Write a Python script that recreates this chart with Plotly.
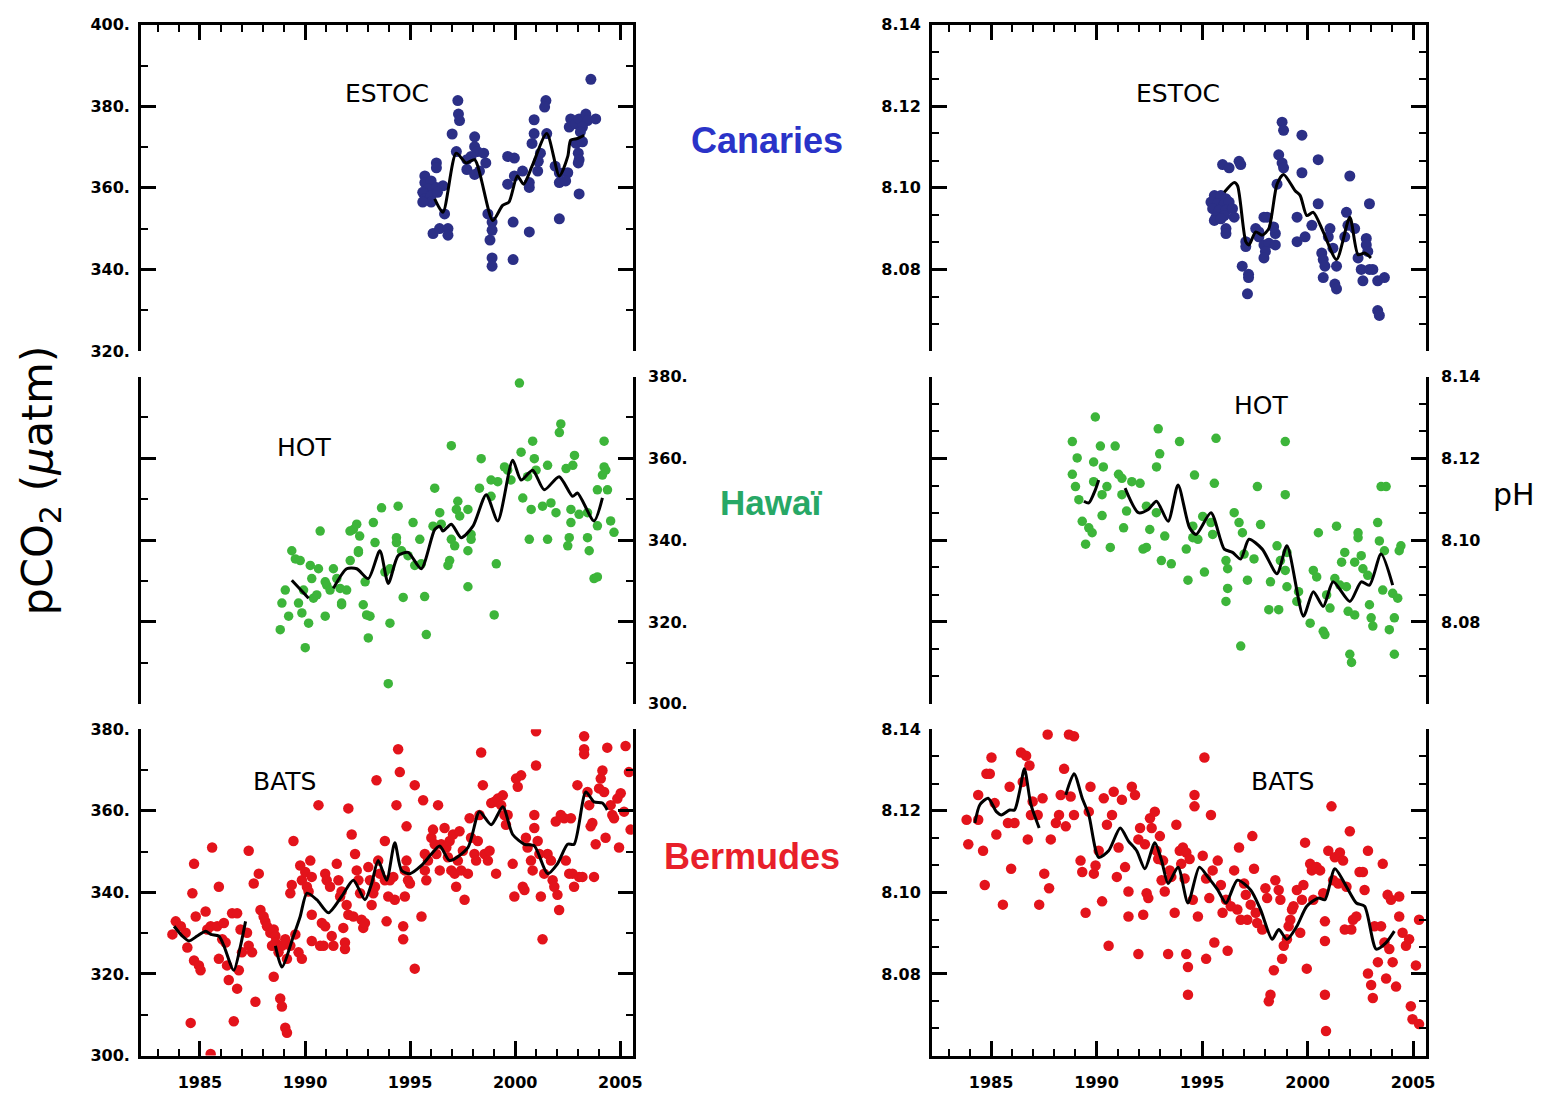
import plotly.graph_objects as go

# ---------------- DATA ----------------
# ESTOC (Canaries) pCO2
estoc_pco2_year = [2003.6, 1997.27, 1997.3, 1997.35, 1997.0, 2001.46, 2001.4, 2000.9, 2000.9, 2000.8,
                   2001.5, 1998.07, 1998.07, 1998.2, 1998.5, 1997.9, 1997.7, 1997.2, 1998.6, 1997.7,
                   1998.07, 1998.3, 1996.25, 1996.25, 1995.7, 1995.7, 1996.0, 1995.85, 1996.25, 1996.56,
                   1995.6, 1995.7, 1996.0, 1996.3, 1996.0, 1995.6, 1996.64, 1996.09, 1996.4, 1996.8,
                   1996.8, 1999.64, 1999.96, 1999.64, 1999.96, 2000.35, 2000.67, 2000.67, 1998.7, 1998.9,
                   1998.9, 1998.8, 1998.9, 1998.9, 1999.9, 1999.9, 2000.67, 2002.1, 2001.2, 2001.1,
                   2001.07, 2001.9, 2002.1, 2002.1, 2002.5, 2002.4, 2002.64, 2002.57, 2002.88, 2003.04,
                   2003.36, 2003.44, 2003.83, 2003.2, 2003.1, 2002.9, 2003.2, 2003.0, 2003.04, 2003.0,
                   2003.04]
estoc_pco2_val = [386.6, 381.4, 378.1, 376.5, 373.2, 381.4, 379.8, 376.7, 373.3, 370.9,
                  373.3, 372.5, 370.1, 368.9, 368.5, 367.7, 366.9, 368.9, 366.1, 364.5,
                  363.3, 364.1, 366.1, 364.9, 362.9, 361.3, 361.7, 359.7, 360.1, 360.5,
                  358.9, 357.3, 358.1, 358.9, 356.5, 356.5, 353.6, 348.8, 350.0, 350.0,
                  348.4, 367.7, 367.3, 360.9, 362.9, 364.1, 360.1, 361.3, 353.6, 351.6,
                  349.6, 347.2, 342.8, 340.8, 342.4, 351.6, 349.2, 352.4, 368.5, 366.5,
                  364.1, 365.3, 363.7, 361.3, 363.7, 361.7, 376.9, 374.9, 375.7, 376.9,
                  378.1, 376.5, 376.9, 374.9, 373.7, 370.9, 371.3, 368.5, 366.9, 366.1,
                  358.5]
estoc_pco2_fit_year = [1996.17, 1996.56, 1997.19, 1997.67, 1998.07, 1998.93, 1999.4, 1999.7, 2000.1,
                       2000.4, 2000.8, 2001.5, 2002.1, 2002.5, 2002.64, 2002.96, 2003.28]
estoc_pco2_fit_val = [357.3, 354.0, 368.5, 366.1, 366.9, 352.0, 355.7, 356.5, 362.9,
                      360.9, 365.3, 373.3, 362.9, 367.7, 371.7, 372.1, 372.9]

# ESTOC pH
estoc_ph_year = [1998.79, 1998.86, 1999.73, 1998.63, 1998.79, 1998.86, 1998.55, 2000.5, 1999.73, 2002.0,
                 1995.97, 1996.28, 1996.75, 1996.83, 1995.58, 1995.89, 1996.13, 1995.42, 1995.73, 1996.05,
                 1996.28, 1995.5, 1995.81, 1996.13, 1996.44, 1995.66, 1996.05, 1995.58, 1995.89, 1996.52,
                 1996.13, 1996.13, 1997.07, 1997.07, 1996.9, 1997.2, 1997.2, 1997.15, 1997.54, 1997.69,
                 1997.93, 1998.08, 1997.93, 1998.16, 1998.0, 1997.93, 1998.47, 1998.47, 1998.39, 1997.69,
                 1999.5, 1999.5, 1999.88, 2000.2, 2000.5, 2000.67, 2000.74, 2000.82, 2000.74, 2001.29,
                 2001.37, 2001.37, 2001.06, 2000.98, 2001.2, 2001.84, 2001.91, 2001.76, 2002.23, 2002.39,
                 2002.54, 2002.78, 2002.78, 2002.85, 2002.93, 2003.09, 2002.62, 2002.93, 2003.32, 2003.64,
                 2003.32, 2003.4]
estoc_ph_val = [8.1161, 8.1141, 8.1129, 8.1081, 8.1061, 8.1049, 8.1009, 8.1069, 8.1037, 8.1029,
                8.1057, 8.1049, 8.1065, 8.1057, 8.0981, 8.0981, 8.0973, 8.0965, 8.0961, 8.0961,
                8.0965, 8.0949, 8.0945, 8.0945, 8.0949, 8.0928, 8.0932, 8.0920, 8.0924, 8.0928,
                8.0900, 8.0888, 8.0868, 8.0856, 8.0808, 8.0788, 8.0780, 8.0740, 8.0900, 8.0880,
                8.0928, 8.0928, 8.0860, 8.0864, 8.0844, 8.0828, 8.0860, 8.0888, 8.0904, 8.0892,
                8.0928, 8.0868, 8.0880, 8.0908, 8.0961, 8.0840, 8.0824, 8.0808, 8.0780, 8.0764,
                8.0752, 8.0808, 8.0900, 8.0880, 8.0852, 8.0940, 8.0908, 8.0880, 8.0900, 8.0828,
                8.0800, 8.0876, 8.0860, 8.0844, 8.0800, 8.0800, 8.0772, 8.0961, 8.0772, 8.0780,
                8.0699, 8.0687]
estoc_ph_fit_year = [1996.05, 1996.52, 1996.68, 1997.07, 1997.22, 1997.54, 1997.85, 1998.16, 1998.55, 1998.86,
                     1999.41, 1999.65, 1999.96, 2000.27, 2000.74, 2001.37, 2002.0, 2002.39, 2002.7, 2003.0]
estoc_ph_fit_val = [8.0989, 8.1013, 8.1005, 8.0868, 8.0860, 8.0892, 8.0884, 8.0900, 8.1009, 8.1033,
                    8.0993, 8.0981, 8.0932, 8.0940, 8.0892, 8.0824, 8.0928, 8.0836, 8.0840, 8.0828]

# HOT (Hawaii) pCO2
hot_pco2_year = [2000.2, 2002.17, 2002.1, 1996.96, 2000.83, 2004.23, 1998.38, 1999.49, 2000.28, 2000.91,
                 2001.54, 2000.99, 2000.59, 2002.74, 2002.82, 2004.23, 2004.31, 2004.15, 2004.39, 2003.91,
                 2002.42, 1997.27, 1997.75, 1998.3, 1998.85, 1999.17, 1999.8, 1999.64, 1998.85, 2000.36,
                 2000.76, 2001.3, 2001.7, 2001.94, 2002.65, 2003.04, 2002.65, 2003.44, 2000.67, 2001.54,
                 2002.57, 2002.5, 2003.44, 2003.52, 2003.91, 2004.54, 2004.7, 2003.75, 2003.91, 1996.17,
                 1996.41, 1996.09, 1996.48, 1997.2, 1997.36, 1996.96, 1997.12, 1996.88, 1996.8, 1997.9,
                 1997.75, 1997.9, 1995.46, 1995.14, 1994.9, 1995.22, 1994.59, 1994.35, 1994.35, 1995.53,
                 1995.69, 1995.77, 1994.67, 1997.75, 1999.1, 1999.0, 1993.64, 1994.43, 1993.25, 1993.33,
                 1992.54, 1992.3, 1992.46, 1992.15, 1992.86, 1994.04, 1993.8, 1994.04, 1992.77, 1992.93,
                 1993.09, 1993.01, 1993.96, 1991.74, 1990.72, 1992.14, 1992.6, 1992.54, 1991.35, 1991.51,
                 1991.03, 1991.19, 1991.67, 1991.98, 1991.74, 1990.64, 1990.96, 1989.37, 1989.54, 1989.77,
                 1989.06, 1988.9, 1989.22, 1988.82, 1989.93, 1990.25, 1990.32, 1990.4, 1989.85, 1990.17,
                 1990.96, 1989.69, 1990.01, 1990.56]
hot_pco2_val = [378.4, 368.4, 366.3, 363.1, 364.2, 364.2, 359.9, 357.9, 361.5, 359.9,
                358.3, 357.1, 355.5, 358.3, 360.7, 357.9, 357.1, 355.9, 352.3, 352.3,
                357.5, 349.5, 347.5, 352.7, 350.7, 354.3, 354.7, 357.1, 354.7, 350.3,
                347.5, 348.3, 349.1, 346.7, 347.5, 346.3, 344.3, 346.7, 340.2, 340.2,
                340.6, 338.6, 340.6, 337.4, 343.5, 344.7, 341.9, 330.6, 331.0, 352.7,
                346.7, 343.4, 343.9, 347.5, 345.9, 340.2, 338.6, 335.0, 333.8, 340.2,
                337.4, 341.4, 340.2, 344.3, 336.2, 333.8, 337.4, 340.6, 339.4, 334.2,
                326.2, 316.9, 326.0, 328.6, 334.2, 321.7, 347.9, 348.3, 344.3, 339.4,
                337.0, 342.6, 343.9, 335.0, 329.8, 333.0, 332.2, 319.7, 324.2, 321.7,
                321.4, 316.1, 304.9, 324.2, 342.2, 342.2, 341.0, 337.4, 333.0, 330.6,
                329.0, 327.8, 328.2, 327.8, 324.6, 333.0, 329.8, 337.4, 335.4, 335.0,
                327.8, 324.6, 321.4, 318.1, 327.8, 333.8, 330.6, 325.8, 322.2, 319.7,
                321.4, 324.6, 313.7, 326.6]
hot_pco2_fit_year = [1989.37, 1990.17, None, 1991.35, 1991.98, 1992.46, 1993.01, 1993.56, 1993.96, 1994.43,
                     1994.9, 1995.53, 1996.17, 1996.41, 1996.56, 1996.96, 1997.43, 1997.99, 1998.62, 1999.17,
                     1999.88, 2000.28, 2000.83, 2001.38, 2002.09, 2002.73, 2002.96, 2003.75, 2004.15]
hot_pco2_fit_val = [330.2, 325.8, None, 328.2, 333.0, 333.0, 330.6, 337.4, 329.4, 336.2,
                    337.0, 333.0, 342.6, 343.4, 342.2, 343.9, 340.6, 343.4, 351.1, 344.7,
                    359.5, 354.7, 357.1, 352.3, 355.5, 350.7, 351.5, 344.7, 350.3]

# HOT pH
hot_ph_year = [1989.94, 1988.85, 1990.18, 1990.88, 1989.08, 1989.86, 1990.32, 1988.85, 1991.04, 1989.0,
               1990.49, 1991.2, 1989.86, 1990.26, 1989.16, 1991.2, 1989.32, 1989.63, 1989.79, 1989.48,
               1990.26, 1990.65, 1991.28, 1992.92, 1992.99, 1992.84, 1993.93, 1995.66, 1994.64, 1995.58,
               1997.62, 1998.94, 1998.94, 1991.67, 1992.06, 1991.42, 1992.36, 1992.83, 1992.36, 1992.2,
               1993.23, 1992.52, 1993.07, 1993.54, 1994.33, 1995.11, 1994.25, 1994.8, 1995.03, 1995.42,
               1994.56, 1994.56, 1995.5, 1996.13, 1996.21, 1996.52, 1996.75, 1996.91, 1996.99, 1996.21,
               1996.13, 1997.15, 1997.46, 1997.77, 1996.83, 1998.16, 1998.63, 1998.24, 1998.55, 1998.71,
               1999.02, 1998.94, 1999.02, 1999.49, 1999.57, 2000.12, 2000.51, 2000.27, 2000.43, 2000.74,
               2000.82, 2000.9, 2001.06, 2001.37, 2001.29, 2001.61, 2001.76, 2001.53, 2001.84, 2001.92,
               2002.23, 2002.39, 2002.39, 2002.54, 2002.62, 2002.85, 2002.93, 2003.01, 2003.09, 2003.32,
               2003.4, 2003.64, 2003.48, 2003.72, 2003.56, 2004.03, 2004.27, 2004.11, 2003.87, 2004.11,
               2002.0, 2002.08, 2002.23, 2004.42, 2004.34]
hot_ph_val = [8.1301, 8.1241, 8.1230, 8.1230, 8.1201, 8.1191, 8.1179, 8.1161, 8.1161, 8.1131,
              8.1131, 8.1151, 8.1143, 8.1111, 8.1099, 8.1111, 8.1046, 8.1030, 8.1018, 8.0990,
              8.1060, 8.0982, 8.1030, 8.1272, 8.1211, 8.1179, 8.1241, 8.1249, 8.1159, 8.1139,
              8.1131, 8.1241, 8.1111, 8.1143, 8.1139, 8.1071, 8.1083, 8.1067, 8.0982, 8.0978,
              8.1010, 8.1026, 8.0950, 8.0942, 8.0902, 8.0922, 8.0978, 8.1002, 8.1058, 8.1043,
              8.1034, 8.1006, 8.1014, 8.0950, 8.0930, 8.1067, 8.1043, 8.1018, 8.0966, 8.0882,
              8.0850, 8.0902, 8.0954, 8.1038, 8.0741, 8.0830, 8.0830, 8.0898, 8.0986, 8.0950,
              8.0970, 8.0926, 8.0886, 8.0850, 8.0874, 8.0797, 8.1018, 8.0926, 8.0910, 8.0777,
              8.0769, 8.0866, 8.0834, 8.1034, 8.0906, 8.0946, 8.0970, 8.0890, 8.0886, 8.0826,
              8.0817, 8.1018, 8.1006, 8.0962, 8.0930, 8.0914, 8.0842, 8.0810, 8.0790, 8.1043,
              8.0998, 8.0974, 8.1131, 8.1131, 8.0878, 8.0870, 8.0858, 8.0810, 8.0781, 8.0721,
              8.0721, 8.0701, 8.0946, 8.0986, 8.0974]
hot_ph_fit_year = [1989.4, 1989.63, 1989.94, 1990.1, None, 1991.35, 1991.98, 1992.45, 1992.84, 1993.39,
                   1993.86, 1994.4, 1994.72, 1995.42, 1996.05, 1996.44, 1996.83, 1997.22, 1997.85, 1998.55,
                   1999.02, 1999.8, 2000.27, 2000.74, 2001.21, 2002.0, 2002.54, 2002.93, 2003.48, 2004.03]
hot_ph_fit_val = [8.1095, 8.1091, 8.1123, 8.1147, None, 8.1127, 8.1067, 8.1075, 8.1095, 8.1046,
                  8.1135, 8.1031, 8.1014, 8.1067, 8.0978, 8.0970, 8.0954, 8.1002, 8.0978, 8.0918,
                  8.0986, 8.0814, 8.0874, 8.0838, 8.0898, 8.0850, 8.0898, 8.0890, 8.0966, 8.0890]

# BATS (Bermuda) pCO2
bats_pco2_year = [
    1983.85, 1983.69, 1984.09, 1984.32, 1984.40, 1984.80, 1984.72, 1984.95, 1985.03, 1984.64,
    1984.72, 1985.27, 1985.35, 1985.51, 1985.58, 1985.90, 1985.82, 1985.90, 1986.14, 1986.06,
    1986.22, 1986.29, 1986.37, 1986.53, 1986.61, 1986.77, 1986.85, 1986.77, 1986.93, 1987.00,
    1987.24, 1987.32, 1987.32, 1987.48, 1987.56, 1987.64, 1987.80, 1984.56, 1985.51,
    1987.88, 1988.03, 1988.11, 1988.19, 1988.35, 1988.51, 1988.59, 1988.43, 1988.59, 1988.74,
    1988.90, 1989.06, 1989.14, 1989.30, 1989.54, 1989.69, 1989.85, 1988.51, 1988.82, 1988.90,
    1989.06, 1989.14, 1989.30, 1989.37, 1989.45, 1989.77, 1989.85, 1990.01, 1990.09, 1990.25,
    1990.32, 1990.17, 1990.32,
    1990.64, 1990.80, 1990.96, 1990.32, 1990.72, 1990.88, 1990.96, 1991.03, 1991.19, 1991.27,
    1991.35, 1991.51, 1991.59, 1991.67, 1991.74, 1991.82, 1991.90, 1991.90, 1992.06, 1991.98,
    1992.06, 1992.22, 1992.30, 1992.38, 1992.46, 1992.54, 1992.62, 1992.69, 1992.77, 1992.85,
    1993.01, 1993.09, 1993.17, 1993.25, 1993.33, 1993.40, 1993.48, 1993.56, 1993.80, 1993.80,
    1993.88, 1993.96, 1994.04, 1994.20, 1994.27, 1994.35, 1994.43, 1994.51, 1994.67, 1994.75,
    1994.67, 1994.83, 1994.75, 1994.83, 1994.90, 1994.99, 1995.22, 1995.22, 1995.54, 1995.62,
    1995.70, 1995.85, 1995.70, 1995.77,
    1996.01, 1996.09, 1996.17, 1996.25, 1996.33, 1996.41, 1996.48, 1996.64, 1996.72, 1996.80,
    1996.88, 1996.96, 1997.04, 1997.12, 1997.19, 1997.27, 1997.35, 1997.43, 1997.51, 1997.59,
    1997.75, 1997.83, 1997.90, 1998.06, 1998.14, 1998.22, 1998.30, 1998.38, 1998.46, 1998.54,
    1998.70, 1998.78, 1998.86, 1999.01, 1999.09, 1999.17, 1999.33, 1999.41, 1999.49, 1999.56,
    1999.64, 1999.88, 1999.96, 2000.12, 2000.04, 2000.28, 2000.36, 2000.44,
    2000.51, 2000.59, 2000.75, 2000.83, 2000.91, 2000.91, 2000.99, 2000.99, 2001.07, 2001.15,
    2001.22, 2001.30, 2001.38, 2001.54, 2001.70, 2001.78, 2001.86, 2001.93, 2002.01, 2002.09,
    2002.17, 2002.33, 2002.41, 2002.57, 2002.65, 2002.73, 2002.80, 2002.96, 2003.04, 2003.20,
    2003.28, 2003.28, 2003.28, 2003.44, 2003.52, 2003.59, 2003.67, 2003.75, 2003.83, 2003.99,
    2004.07, 2004.15, 2004.23, 2004.30, 2004.38, 2004.54, 2004.62, 2004.70, 2004.86, 2004.94,
    2005.02, 2005.18, 2005.25, 2005.41, 2005.49]
bats_pco2_val = [
    332.9, 329.7, 331.7, 330.1, 326.5, 334.1, 323.3, 322.1, 320.9, 339.8,
    347.0, 335.3, 330.9, 331.7, 351.0, 341.4, 331.7, 323.7, 332.5, 328.5,
    327.7, 322.1, 318.5, 334.9, 308.4, 316.4, 320.9, 334.9, 330.9, 325.3,
    330.1, 326.9, 350.2, 325.3, 342.2, 313.2, 344.6, 308.0, 300.4,
    335.7, 334.1, 332.9, 331.7, 330.1, 330.9, 329.3, 326.9, 327.7, 325.3,
    326.9, 328.5, 323.7, 326.9, 329.7, 325.3, 323.7, 319.3, 314.0, 312.0,
    306.8, 305.6, 339.8, 341.8, 352.6, 346.6, 343.0, 345.0, 341.4, 347.8,
    343.8, 340.2, 328.1,
    361.4, 332.5, 331.7, 334.5, 326.9, 326.9, 344.6, 343.0, 341.4, 329.3,
    326.9, 347.0, 343.0, 339.0, 340.2, 331.3, 327.7, 326.1, 360.6, 336.9,
    334.5, 354.2, 334.1, 349.4, 345.4, 343.0, 339.8, 333.3, 331.3, 332.5,
    346.2, 343.0, 336.9, 339.8, 341.4, 367.5, 347.8, 344.6, 352.6, 343.0,
    332.9, 339.0, 343.0, 343.8, 338.2, 361.4, 375.1, 369.5, 331.7, 345.4,
    328.5, 347.8, 339.0, 356.2, 343.0, 342.2, 366.3, 321.3, 334.1, 362.6,
    349.4, 347.8, 345.4, 343.0,
    353.4, 355.4, 351.8, 349.4, 361.4, 345.4, 351.8, 355.8, 351.0, 348.6,
    352.6, 345.4, 354.2, 344.6, 341.4, 347.8, 355.0, 345.4, 350.2, 338.2,
    344.6, 358.2, 353.4, 349.4, 347.8, 352.6, 359.0, 374.3, 366.3, 349.4,
    347.8, 350.2, 361.9, 362.2, 344.6, 363.0, 361.4, 363.8, 359.0, 356.6,
    359.0, 347.0, 339.0, 365.9, 367.9, 368.7, 341.4, 340.6,
    353.4, 351.0, 347.8, 345.4, 359.0, 355.8, 379.5, 371.1, 352.6, 349.4,
    339.0, 328.5, 344.6, 349.4, 347.8, 343.0, 341.4, 357.4, 339.4, 335.7,
    359.0, 358.2, 347.8, 344.6, 358.2, 344.6, 341.4, 366.3, 343.8, 343.8,
    378.3, 375.1, 373.9, 364.6, 361.4, 356.2, 357.0, 343.8, 351.8, 365.5,
    367.9, 369.9, 364.6, 353.4, 375.5, 361.4, 359.0, 358.2, 363.0, 351.0,
    364.3, 359.8, 375.9, 369.5, 355.4]
bats_pco2_fit_year = [1983.77, 1984.16, 1984.48, 1984.87, 1985.27, 1985.51, 1985.9, 1986.14, 1986.61, 1986.93,
                      1987.17, None, 1988.59, 1988.9, 1989.45, 1989.77, 1990.09, 1990.56, 1991.11, 1991.74,
                      1992.3, 1992.85, 1993.17, 1993.48, 1993.88, 1994.27, 1994.59, 1994.99, 1995.54, 1996.01,
                      1996.41, 1996.88, 1997.75, 1998.3, 1998.86, 1999.41, 1999.88, 2000.44, 2000.91, 2001.54,
                      2002.01, 2002.49, 2002.8, 2003.36, 2003.75, 2004.15, 2004.38]
bats_pco2_fit_val = [331.7, 329.3, 328.1, 329.3, 330.5, 329.7, 329.3, 326.9, 320.9, 326.9,
                     332.9, None, 326.9, 321.7, 329.3, 334.1, 339.8, 338.2, 335.0, 339.0,
                     343.0, 338.2, 342.2, 347.8, 343.0, 352.2, 345.4, 344.6, 346.6, 349.4,
                     351.4, 347.8, 351.0, 359.8, 356.6, 361.0, 354.2, 351.8, 351.4, 344.6,
                     347.0, 351.8, 351.8, 364.6, 362.2, 361.9, 360.2]

# BATS pH
bats_ph_year = [
    1983.84, 1983.92, 1984.39, 1984.39, 1984.62, 1984.78, 1984.94, 1985.02, 1984.70, 1985.17,
    1985.25, 1985.56, 1985.80, 1985.88, 1985.95, 1986.11, 1986.42, 1986.50, 1986.66, 1986.74,
    1986.82, 1986.89, 1986.97, 1987.21, 1987.28, 1987.44, 1987.52, 1987.75, 1987.68, 1987.83,
    1988.07, 1988.22, 1988.30, 1988.46, 1988.54, 1988.69, 1988.93, 1988.77, 1988.93, 1989.24,
    1989.32, 1989.48, 1989.63, 1989.71, 1989.87, 1989.95, 1990.10, 1990.26, 1990.34, 1990.49,
    1990.57, 1990.73, 1990.81, 1990.96, 1991.04, 1991.20, 1991.35, 1991.51, 1991.51, 1991.67,
    1991.82, 1991.98, 1992.06, 1991.98, 1992.21, 1992.29, 1992.37, 1992.45, 1992.53, 1992.61,
    1992.76, 1992.84, 1992.92, 1993.00, 1993.08, 1993.15, 1993.23, 1993.39, 1993.47, 1993.54,
    1993.70, 1993.78, 1993.94, 1994.01, 1994.09, 1994.17, 1994.25, 1994.25, 1994.33, 1994.33,
    1994.41, 1994.56, 1994.64, 1994.64, 1994.80,
    1995.03, 1995.11, 1995.19, 1995.19, 1995.34, 1995.42, 1995.50, 1995.58, 1995.74, 1995.89,
    1995.97, 1996.13, 1996.21, 1996.36, 1996.52, 1996.67, 1996.75, 1996.83, 1996.99, 1997.07,
    1997.14, 1997.30, 1997.38, 1997.46, 1997.54, 1997.61, 1997.85, 1998.00, 1998.08, 1998.24,
    1998.16, 1998.40, 1998.47, 1998.63, 1998.71, 1998.79, 1998.87, 1999.02, 1999.10, 1999.18,
    1999.26, 1999.33, 1999.49, 1999.65, 1999.73, 1999.80, 1999.88, 1999.96,
    2000.12, 2000.20, 2000.27, 2000.43, 2000.59, 2000.74, 2000.82, 2000.82, 2000.82, 2000.87,
    2000.98, 2001.13, 2001.21, 2001.29, 2001.45, 2001.53, 2001.68, 2001.76, 2001.84, 2002.00,
    2002.07, 2002.15, 2002.31, 2002.46, 2002.62, 2002.70, 2002.86, 2002.86, 2003.01, 2003.09,
    2003.17, 2003.33, 2003.48, 2003.56, 2003.64, 2003.72, 2003.79, 2003.87, 2003.95, 2004.03,
    2004.19, 2004.34, 2004.34, 2004.50, 2004.66, 2004.81, 2004.89, 2004.97, 2005.13, 2005.28,
    2005.28]
bats_ph_val = [
    8.1178, 8.1118, 8.1239, 8.1178, 8.1102, 8.1291, 8.1291, 8.1331, 8.1018, 8.1219,
    8.1142, 8.0970, 8.1170, 8.1259, 8.1058, 8.1170, 8.1343, 8.1271, 8.1335, 8.1130,
    8.1311, 8.1190, 8.1223, 8.1190, 8.0970, 8.1231, 8.1046, 8.1010, 8.1387, 8.1130,
    8.1170, 8.1190, 8.1239, 8.1303, 8.1162, 8.1387, 8.1383, 8.1235, 8.1190, 8.1078,
    8.1050, 8.0950, 8.1198, 8.1259, 8.1046, 8.1066, 8.1102, 8.0978, 8.1231, 8.1166,
    8.0869, 8.1190, 8.1247, 8.1038, 8.1110, 8.1227, 8.1062, 8.0941, 8.1002, 8.1259,
    8.1239, 8.1130, 8.1158, 8.0849, 8.0945, 8.1118, 8.0998, 8.0986, 8.1182, 8.1158,
    8.1198, 8.1102, 8.1082, 8.1138, 8.1030, 8.1078, 8.1002, 8.0849, 8.1054, 8.1038,
    8.0950, 8.1166, 8.1102, 8.1070, 8.1110, 8.1034, 8.1098, 8.0849, 8.0817, 8.0749,
    8.1082, 8.0982, 8.1239, 8.1211, 8.0941,
    8.1090, 8.1331, 8.1034, 8.0837, 8.0986, 8.1190, 8.1054, 8.0877, 8.1078, 8.1018,
    8.0950, 8.0982, 8.0857, 8.0966, 8.1054, 8.0958, 8.1110, 8.0933, 8.1022, 8.0994,
    8.0933, 8.0970, 8.1138, 8.1058, 8.0950, 8.0925, 8.0909, 8.1010, 8.0986, 8.0749,
    8.0733, 8.0809, 8.1030, 8.1006, 8.0982, 8.0837, 8.0869, 8.0885, 8.0917, 8.0933,
    8.0958, 8.0966, 8.1006, 8.0901, 8.0982, 8.1018, 8.1122, 8.0813,
    8.1070, 8.1054, 8.0982, 8.1062, 8.1054, 8.0998, 8.0929, 8.0881, 8.0749, 8.0660,
    8.1102, 8.1211, 8.1030, 8.1086, 8.1022, 8.1098, 8.1078, 8.0909, 8.1014, 8.1150,
    8.0909, 8.0933, 8.0941, 8.1050, 8.1050, 8.1006, 8.1102, 8.0801, 8.0773, 8.0741,
    8.0917, 8.0829, 8.0917, 8.1070, 8.0877, 8.0789, 8.0994, 8.0861, 8.0982, 8.0829,
    8.0769, 8.0990, 8.0941, 8.0901, 8.0869, 8.0885, 8.0721, 8.0689, 8.0821, 8.0933,
    8.0677]
bats_ph_fit_year = [1984.23, 1984.47, 1984.86, 1985.25, 1985.49, 1985.88, 1986.11, 1986.35, 1986.58, 1986.89,
                    1987.28, None, 1988.54, 1988.93, 1989.32, 1989.63, 1990.10, 1990.57, 1991.12, 1991.51,
                    1991.90, 1992.29, 1992.76, 1993.08, 1993.39, 1993.86, 1994.33, 1994.87, 1995.27, 1995.74,
                    1996.13, 1996.67, 1997.30, 1997.77, 1998.32, 1998.63, 1999.02, 1999.49, 1999.96, 2000.51,
                    2000.82, 2001.29, 2001.84, 2002.31, 2002.70, 2003.25, 2003.72, 2004.11]
bats_ph_fit_val = [8.1170, 8.1215, 8.1231, 8.1198, 8.1190, 8.1202, 8.1202, 8.1247, 8.1303, 8.1215,
                   8.1158, None, 8.1239, 8.1291, 8.1231, 8.1190, 8.1086, 8.1102, 8.1158, 8.1126,
                   8.1102, 8.1058, 8.1122, 8.1078, 8.1022, 8.1062, 8.0974, 8.1062, 8.1038, 8.1006,
                   8.0974, 8.1030, 8.1006, 8.0958, 8.0885, 8.0909, 8.0885, 8.0917, 8.0966, 8.0986,
                   8.0982, 8.1058, 8.1014, 8.0974, 8.0966, 8.0861, 8.0877, 8.0905]

# Axis ticks / labels
year_range = [1982.2, 2005.6]
pco2_top_ticks = [320, 340, 360, 380, 400]
pco2_ticks = [300, 320, 340, 360, 380]
ph_ticks = [8.08, 8.10, 8.12, 8.14]
year_ticks = [1985, 1990, 1995, 2000, 2005]

# ---------------- FIGURE ----------------
W, H = 1560, 1095

def px_x(p):
    return p / W

def px_y(p):
    return 1 - p / H

left_dom = [px_x(142), px_x(637)]
right_dom = [px_x(938), px_x(1435)]
top_dom = [px_y(348), px_y(16)]
mid_dom = [px_y(707), px_y(374)]
bot_dom = [px_y(1065), px_y(733)]

COL_ESTOC = "#2b2f86"
COL_HOT = "#3db53a"
COL_BATS = "#e3131b"

tickfont = dict(family="DejaVu Sans", size=16, color="black", weight="bold")

fig = go.Figure()

def add_panel(n, xs, ys, fx, fy, color, size):
    xa = "x" if n == 1 else f"x{n}"
    ya = "y" if n == 1 else f"y{n}"
    fig.add_trace(go.Scatter(x=xs, y=ys, mode="markers", xaxis=xa, yaxis=ya,
                             marker=dict(color=color, size=size, line=dict(width=0)),
                             showlegend=False, hoverinfo="skip"))
    fig.add_trace(go.Scatter(x=fx, y=fy, mode="lines", xaxis=xa, yaxis=ya,
                             line=dict(color="black", width=3, shape="spline", smoothing=0.7),
                             connectgaps=False, showlegend=False, hoverinfo="skip"))

add_panel(1, estoc_pco2_year, estoc_pco2_val, estoc_pco2_fit_year, estoc_pco2_fit_val, COL_ESTOC, 11)
add_panel(2, estoc_ph_year, estoc_ph_val, estoc_ph_fit_year, estoc_ph_fit_val, COL_ESTOC, 11)
add_panel(3, hot_pco2_year, hot_pco2_val, hot_pco2_fit_year, hot_pco2_fit_val, COL_HOT, 9.5)
add_panel(4, hot_ph_year, hot_ph_val, hot_ph_fit_year, hot_ph_fit_val, COL_HOT, 9.5)
add_panel(5, bats_pco2_year, bats_pco2_val, bats_pco2_fit_year, bats_pco2_fit_val, COL_BATS, 10.5)
add_panel(6, bats_ph_year, bats_ph_val, bats_ph_fit_year, bats_ph_fit_val, COL_BATS, 10.5)

def xaxis(domain, anchor, side, labels, visible=True):
    return dict(domain=domain, anchor=anchor, range=year_range, side=side, visible=visible,
                showline=True, linecolor="black", linewidth=3, mirror=False,
                ticks="inside", ticklen=15, tickwidth=2.5, tickcolor="black",
                tickmode="array", tickvals=year_ticks, ticktext=[str(t) for t in year_ticks],
                showticklabels=labels, tickfont=tickfont, ticklabelstandoff=10,
                minor=dict(ticks="inside", ticklen=7, tickwidth=2, tickcolor="black",
                           tickmode="linear", tick0=1985, dtick=1, showgrid=False),
                showgrid=False, zeroline=False)

def minor_vals(major, parts):
    out = []
    for a, b in zip(major[:-1], major[1:]):
        for k in range(1, parts):
            out.append(a + (b - a) * k / parts)
    return out

def yaxis(domain, anchor, side, rng, tickvals, ticktext, labels, minor_parts, extend_below=None):
    mv = minor_vals(tickvals, minor_parts)
    if extend_below is not None:
        step = (tickvals[1] - tickvals[0]) / minor_parts
        v = tickvals[0] - step
        while v > rng[0] + 1e-9:
            mv.append(v)
            v -= step
    standoff = 5 if side == "left" else 9
    return dict(domain=domain, anchor=anchor, range=rng, side=side,
                showline=True, linecolor="black", linewidth=3, mirror="ticks",
                ticks="inside", ticklen=15, tickwidth=2.5, tickcolor="black",
                tickmode="array", tickvals=tickvals, ticktext=ticktext,
                showticklabels=labels, tickfont=tickfont, ticklabelstandoff=standoff,
                minor=dict(ticks="inside", ticklen=7, tickwidth=2, tickcolor="black",
                           tickmode="array", tickvals=mv, showgrid=False),
                showgrid=False, zeroline=False)

pco2_top_text = [f"{t}." for t in pco2_top_ticks]
pco2_text = [f"{t}." for t in pco2_ticks]
ph_text = [f"{t:.2f}" for t in ph_ticks]
ph_range = [8.06, 8.14]

fig.update_layout(
    width=W, height=H, margin=dict(l=0, r=0, t=0, b=0),
    paper_bgcolor="white", plot_bgcolor="white",
    xaxis=xaxis(left_dom, "y", "top", False),
    yaxis=yaxis(top_dom, "x", "left", [320, 400], pco2_top_ticks, pco2_top_text, True, 2),
    xaxis2=xaxis(right_dom, "y2", "top", False),
    yaxis2=yaxis(top_dom, "x2", "left", ph_range, ph_ticks, ph_text, True, 3, extend_below=True),
    xaxis3=xaxis(left_dom, "y3", "bottom", False, visible=False),
    yaxis3=yaxis(mid_dom, "x3", "right", [300, 380], pco2_ticks, pco2_text, True, 2),
    xaxis4=xaxis(right_dom, "y4", "bottom", False, visible=False),
    yaxis4=yaxis(mid_dom, "x4", "right", ph_range, ph_ticks, ph_text, True, 3, extend_below=True),
    xaxis5=xaxis(left_dom, "y5", "bottom", True),
    yaxis5=yaxis(bot_dom, "x5", "left", [300, 380], pco2_ticks, pco2_text, True, 2),
    xaxis6=xaxis(right_dom, "y6", "bottom", True),
    yaxis6=yaxis(bot_dom, "x6", "left", ph_range, ph_ticks, ph_text, True, 3, extend_below=True),
)

def ann(text, x, y, size, color="black", bold=False, family="DejaVu Sans", angle=0):
    fig.add_annotation(text=text, x=px_x(x), y=px_y(y), xref="paper", yref="paper",
                       xanchor="center", yanchor="middle", showarrow=False, textangle=angle,
                       font=dict(family=family, size=size, color=color,
                                 weight="bold" if bold else "normal"))

ann("ESTOC", 389, 86, 25)
ann("ESTOC", 1186, 86, 25)
ann("HOT", 306, 446, 25)
ann("HOT", 1269, 404, 25)
ann("BATS", 286, 786, 25)
ann("BATS", 1291, 786, 25)
ann("Canaries", 772, 134, 36, "#2a33c8", True, "Liberation Sans")
ann("Hawaï", 776, 502, 35, "#27a866", True, "Liberation Sans")
ann("Bermudes", 757, 862, 36, "#e8202a", True, "Liberation Sans")
ann("pCO<sub>2</sub> (<i>μ</i>atm)", 40, 480, 43, angle=-90)
ann("pH", 1524, 494, 30)

fig.write_html("out.html")
